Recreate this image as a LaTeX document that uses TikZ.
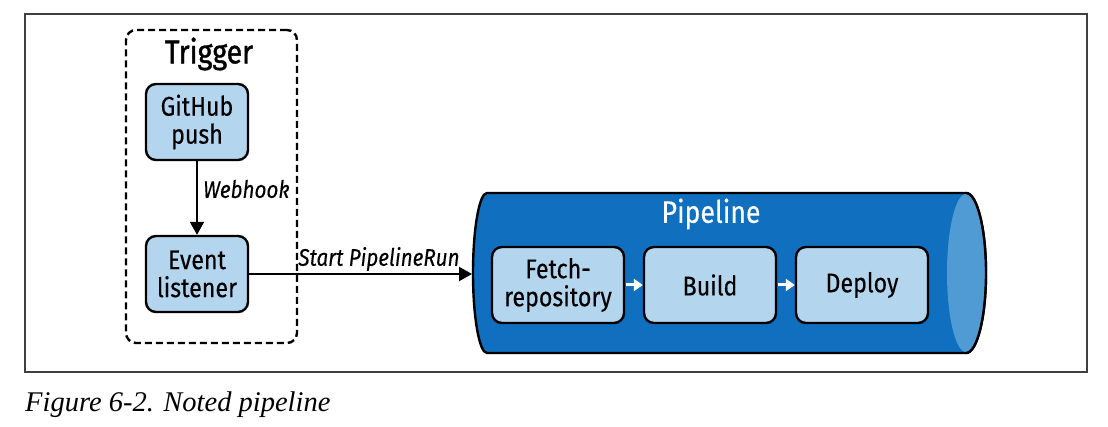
\documentclass[tikz,border=0pt]{standalone}
\usepackage{fontspec}
\setsansfont{Fira Sans}[FakeStretch=0.86]
\setmainfont{Liberation Serif}
\usetikzlibrary{arrows.meta}
\definecolor{boxblue}{RGB}{180,213,238}
\definecolor{pipeblue}{RGB}{16,111,191}
\definecolor{capblue}{RGB}{80,155,212}
\definecolor{framegray}{RGB}{64,64,64}
\tikzset{
  stagebox/.style={draw=black, line width=2.4pt, fill=boxblue, rounded corners=10pt,
    align=center, font=\sffamily\fontsize{27}{28}\selectfont\addfontfeature{FakeBold=0.3}, inner sep=0pt},
  blackarrow/.style={draw=black, line width=2.2pt, -{Triangle[width=14pt,length=13pt]}},
  whitearrow/.style={draw=white, line width=3pt, -{Triangle[width=12pt,length=9pt]}},
  edgelabel/.style={font=\sffamily\itshape\fontsize{24}{28}\selectfont\addfontfeature{FakeBold=0.3}, inner sep=0pt},
}
\begin{document}
\begin{tikzpicture}[x=1pt,y=-1pt]
\useasboundingbox (0,0) rectangle (1108,427);
% outer frame
\draw[framegray, line width=1.3pt] (25,14) rectangle (1087,372);
% trigger group
\node (trig) [draw=black, line width=2.4pt, dash pattern=on 7pt off 4pt, rounded corners=10pt,
  minimum width=171pt, minimum height=313pt, inner sep=0pt] at (211.5,186.5) {};
\node (trigtitle) [font=\sffamily\fontsize{33}{36}\selectfont\addfontfeature{FakeBold=1.2}, inner sep=0pt] at (209,54) {Trigger};
\node (gh) [stagebox, minimum width=102pt, minimum height=76pt] at (197,122) {GitHub\\push};
\node (ev) [stagebox, minimum width=102pt, minimum height=76pt] at (197,274) {Event\\listener};
\draw[blackarrow] (gh.south) -- (ev.north);
\node (wh) [edgelabel, anchor=west] at (203,189) {Webhook};
% pipeline cylinder
\draw[black, line width=2.4pt, fill=pipeblue]
  (487,193) -- (966,193) arc[start angle=-90, end angle=90, x radius=20, y radius=80]
  -- (487,353) arc[start angle=90, end angle=270, x radius=14, y radius=80] -- cycle;
\fill[capblue] (966,273) ellipse[x radius=19, y radius=79];
\draw[black, line width=2.4pt] (966,193) arc[start angle=-90, end angle=90, x radius=20, y radius=80];
\coordinate (pipeL) at (472,274);
\node (ptitle) [font=\sffamily\fontsize{31}{34}\selectfont\addfontfeature{FakeBold=0.3}, text=white, inner sep=0pt] at (711,214) {Pipeline};
\node (fetch) [stagebox, minimum width=132pt, minimum height=76pt] at (558,285) {Fetch-\\repository};
\node (build) [stagebox, minimum width=132pt, minimum height=76pt] at (710,285) {Build};
\node (deploy) [stagebox, minimum width=132pt, minimum height=76pt] at (862,285) {Deploy};
\draw[whitearrow] (fetch.east) ++(1,0) -- (build.west);
\draw[whitearrow] (build.east) ++(1,0) -- (deploy.west);
% start arrow
\draw[blackarrow] (ev.east) -- (pipeL);
\node (spr) [edgelabel] at (379,259) {Start PipelineRun};
% caption
\node (cap) [anchor=base west, font=\rmfamily\itshape\fontsize{28.5}{31}\selectfont, inner sep=0pt] at (25,411) {Figure 6-2. Noted pipeline};
\end{tikzpicture}
\end{document}
